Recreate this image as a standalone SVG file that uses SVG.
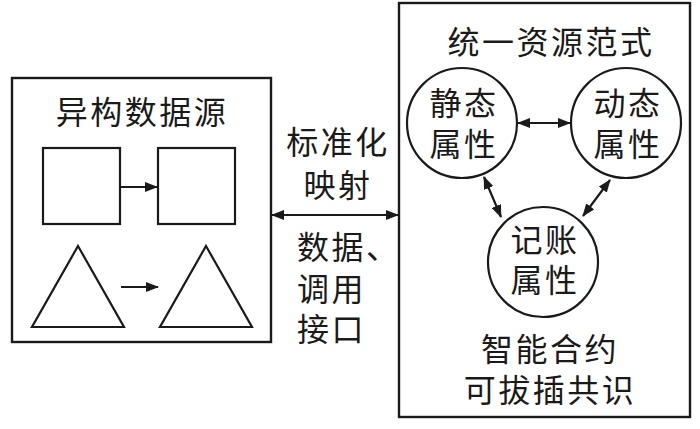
<svg xmlns="http://www.w3.org/2000/svg" width="700" height="429" viewBox="0 0 700 429">
<style>
.box{fill:none;stroke:#1a1a1a;stroke-width:2.4}
.shape{fill:#fff;stroke:#1a1a1a;stroke-width:2.2}
.ln{fill:none;stroke:#1a1a1a;stroke-width:2.2}
text{font-family:"Noto Sans CJK SC","Noto Sans CJK JP",sans-serif;font-size:32px;fill:#1a1a1a;letter-spacing:2.5px}
.c{text-anchor:middle}
</style>
<defs>
<marker id="ah" viewBox="0 0 13 10" refX="12" refY="5" markerWidth="13" markerHeight="10" markerUnits="userSpaceOnUse" orient="auto-start-reverse">
<path d="M0,0 L13,5 L0,10 Z" fill="#1a1a1a"/>
</marker>
</defs>
<rect width="700" height="429" fill="#fff"/>
<g id="hetero-source">
<rect class="box" x="12" y="78" width="259" height="264"/>
<text class="c" x="142" y="124">异构数据源</text>
<rect class="shape" x="43" y="148" width="77" height="76"/>
<rect class="shape" x="158" y="148" width="77" height="76"/>
<line class="ln" x1="120" y1="187" x2="157" y2="187" marker-end="url(#ah)"/>
<polygon class="shape" points="78,246 124,327 32,327"/>
<polygon class="shape" points="206,246 252,327 160,327"/>
<line class="ln" x1="121" y1="287" x2="158" y2="287" marker-end="url(#ah)"/>
</g>
<g id="unified-paradigm">
<rect class="box" x="399" y="3" width="291" height="414"/>
<text class="c" x="551" y="54">统一资源范式</text>
<text class="c" x="550" y="361">智能合约</text>
<text class="c" x="550" y="402">可拔插共识</text>
</g>
<g id="static-attr">
<circle class="shape" cx="462" cy="123" r="55"/>
<text class="c" x="464" y="115">静态</text>
<text class="c" x="464" y="156">属性</text>
</g>
<g id="dynamic-attr">
<circle class="shape" cx="626" cy="123" r="55"/>
<text class="c" x="628" y="115">动态</text>
<text class="c" x="628" y="156">属性</text>
</g>
<g id="ledger-attr">
<circle class="shape" cx="543" cy="262" r="55"/>
<text class="c" x="545" y="252">记账</text>
<text class="c" x="545" y="292">属性</text>
</g>
<g id="mapping-label">
<text class="c" x="338" y="154">标准化</text>
<text class="c" x="338" y="197">映射</text>
<text x="297" y="259">数据、</text>
<text x="297" y="301">调用</text>
<text x="297" y="341">接口</text>
</g>
<g id="connectors">
<line class="ln" x1="272" y1="215" x2="398" y2="215" marker-start="url(#ah)" marker-end="url(#ah)"/>
<line class="ln" x1="518" y1="123" x2="570" y2="123" marker-start="url(#ah)" marker-end="url(#ah)"/>
<line class="ln" x1="484" y1="177" x2="501" y2="217" marker-start="url(#ah)" marker-end="url(#ah)"/>
<line class="ln" x1="610" y1="180" x2="583" y2="216" marker-start="url(#ah)" marker-end="url(#ah)"/>
</g>
</svg>
